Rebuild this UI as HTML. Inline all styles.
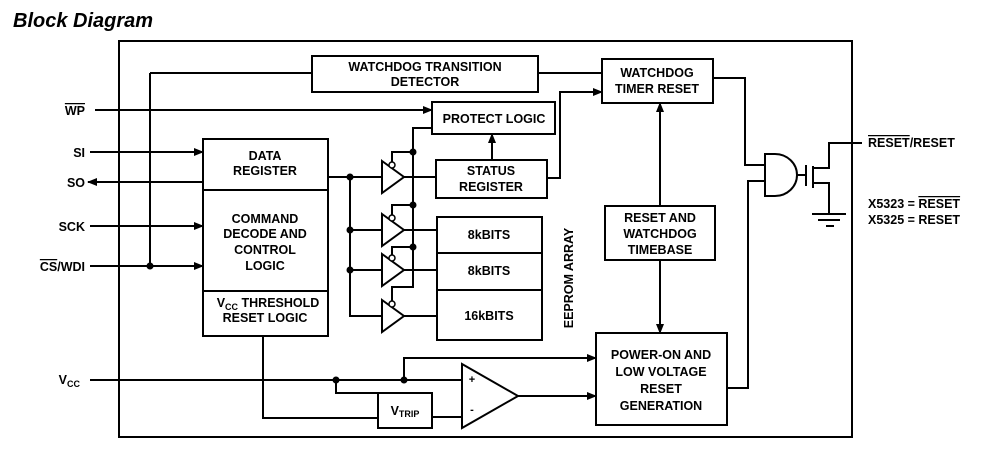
<!DOCTYPE html>
<html><head><style>
html,body{margin:0;padding:0;background:#fff;}
svg{display:block;}
text{font-family:"Liberation Sans",Arial,sans-serif;font-weight:bold;fill:#000;}
</style></head><body>
<svg width="1000" height="459" viewBox="0 0 1000 459" xmlns="http://www.w3.org/2000/svg">
<defs>
<marker id="a" markerWidth="10" markerHeight="8" refX="9" refY="4" orient="auto" markerUnits="userSpaceOnUse">
<path d="M0,0 L10,4 L0,8 z" fill="#000"/></marker>
</defs>
<text x="13" y="27" font-size="20" font-style="italic">Block Diagram</text>
<g fill="none" stroke="#000" stroke-width="2">
<rect x="119" y="41" width="733" height="396"/>
<rect x="312" y="56" width="226" height="36"/>
<rect x="602" y="59" width="111" height="44"/>
<rect x="432" y="102" width="123" height="32"/>
<rect x="203" y="139" width="125" height="197"/>
<line x1="203" y1="190" x2="328" y2="190"/>
<line x1="203" y1="291" x2="328" y2="291"/>
<rect x="436" y="160" width="111" height="38"/>
<rect x="437" y="217" width="105" height="123"/>
<line x1="437" y1="253" x2="542" y2="253"/>
<line x1="437" y1="290" x2="542" y2="290"/>
<rect x="605" y="206" width="110" height="54"/>
<rect x="596" y="333" width="131" height="92"/>
<rect x="378" y="393" width="54" height="35"/>
<line x1="150" y1="73" x2="312" y2="73"/>
<line x1="150" y1="73" x2="150" y2="266"/>
<line x1="538" y1="73" x2="602" y2="73"/>
<line x1="95" y1="110" x2="432" y2="110" marker-end="url(#a)"/>
<line x1="90" y1="152" x2="203" y2="152" marker-end="url(#a)"/>
<line x1="203" y1="182" x2="88" y2="182" marker-end="url(#a)"/>
<line x1="90" y1="226" x2="203" y2="226" marker-end="url(#a)"/>
<line x1="90" y1="266" x2="203" y2="266" marker-end="url(#a)"/>
<line x1="328" y1="177" x2="382" y2="177"/>
<polyline points="350,177 350,316 382,316"/>
<line x1="350" y1="230" x2="382" y2="230"/>
<line x1="350" y1="270" x2="382" y2="270"/>
<path d="M382,161 L404,177 L382,193 z"/>
<path d="M382,214 L404,230 L382,246 z"/>
<path d="M382,254 L404,270 L382,286 z"/>
<path d="M382,300 L404,316 L382,332 z"/>
<line x1="404" y1="177" x2="436" y2="177"/>
<line x1="404" y1="230" x2="437" y2="230"/>
<line x1="404" y1="270" x2="437" y2="270"/>
<line x1="404" y1="316" x2="437" y2="316"/>
<polyline points="392,162 392,152 413,152"/>
<polyline points="392,215 392,205 413,205"/>
<polyline points="392,255 392,247 413,247"/>
<polyline points="392,301 392,287 413,287 413,128 432,128"/>
<line x1="492" y1="160" x2="492" y2="134" marker-end="url(#a)"/>
<polyline points="547,178 560,178 560,92 602,92" marker-end="url(#a)"/>
<line x1="660" y1="206" x2="660" y2="103" marker-end="url(#a)"/>
<line x1="660" y1="260" x2="660" y2="333" marker-end="url(#a)"/>
<polyline points="713,78 745,78 745,165 765,165"/>
<polyline points="727,388 748,388 748,181 765,181"/>
<path d="M765,154 L775,154 A22,21 0 0 1 775,196 L765,196 z"/>
<line x1="797" y1="175" x2="806" y2="175"/>
<line x1="806" y1="165" x2="806" y2="186"/>
<line x1="813" y1="166" x2="813" y2="188"/>
<polyline points="813,168 829,168 829,143 862,143"/>
<polyline points="813,183 829,183 829,214"/>
<line x1="812" y1="214" x2="846" y2="214"/>
<line x1="818" y1="220" x2="840" y2="220"/>
<line x1="826" y1="226" x2="834" y2="226"/>
<line x1="90" y1="380" x2="462" y2="380"/>
<polyline points="404,380 404,358 596,358" marker-end="url(#a)"/>
<polyline points="336,380 336,393 378,393"/>
<polyline points="263,336 263,418 378,418"/>
<line x1="432" y1="417" x2="462" y2="417"/>
<path d="M462,364 L518,396 L462,428 z"/>
<line x1="518" y1="396" x2="596" y2="396" marker-end="url(#a)"/>
</g>
<g fill="#000">
<circle cx="150" cy="266" r="3.5"/>
<circle cx="350" cy="177" r="3.5"/>
<circle cx="350" cy="230" r="3.5"/>
<circle cx="350" cy="270" r="3.5"/>
<circle cx="413" cy="152" r="3.5"/>
<circle cx="413" cy="205" r="3.5"/>
<circle cx="413" cy="247" r="3.5"/>
<circle cx="336" cy="380" r="3.5"/>
<circle cx="404" cy="380" r="3.5"/>
</g>
<g fill="#fff" stroke="#000" stroke-width="1.5">
<circle cx="392" cy="165" r="3"/>
<circle cx="392" cy="218" r="3"/>
<circle cx="392" cy="258" r="3"/>
<circle cx="392" cy="304" r="3"/>
</g>
<g font-size="12.5" text-anchor="middle">
<text x="425" y="71">WATCHDOG TRANSITION</text>
<text x="425" y="86">DETECTOR</text>
<text x="657" y="77">WATCHDOG</text>
<text x="657" y="93">TIMER RESET</text>
<text x="494" y="123">PROTECT LOGIC</text>
<text x="265" y="160">DATA</text>
<text x="265" y="175">REGISTER</text>
<text x="265" y="223">COMMAND</text>
<text x="265" y="238">DECODE AND</text>
<text x="265" y="254">CONTROL</text>
<text x="265" y="270">LOGIC</text>
<text x="268" y="307">V<tspan font-size="9" dy="3">CC</tspan><tspan dy="-3"> THRESHOLD</tspan></text>
<text x="265" y="322">RESET LOGIC</text>
<text x="491" y="175">STATUS</text>
<text x="491" y="191">REGISTER</text>
<text x="489" y="239">8kBITS</text>
<text x="489" y="275">8kBITS</text>
<text x="489" y="320">16kBITS</text>
<text x="660" y="222">RESET AND</text>
<text x="660" y="238">WATCHDOG</text>
<text x="660" y="254">TIMEBASE</text>
<text x="661" y="359">POWER-ON AND</text>
<text x="661" y="376">LOW VOLTAGE</text>
<text x="661" y="393">RESET</text>
<text x="661" y="410">GENERATION</text>
<text x="405" y="415">V<tspan font-size="9" dy="2">TRIP</tspan></text>
</g>
<text x="472" y="383" font-size="11" text-anchor="middle">+</text>
<text x="472" y="413" font-size="11" text-anchor="middle">-</text>
<text x="569" y="278" font-size="12.5" text-anchor="middle" transform="rotate(-90 569 278)" dy="4">EEPROM ARRAY</text>
<g font-size="12.5" text-anchor="end">
<text x="85" y="115"><tspan text-decoration="overline">WP</tspan></text>
<text x="85" y="157">SI</text>
<text x="85" y="187">SO</text>
<text x="85" y="231">SCK</text>
<text x="85" y="271"><tspan text-decoration="overline">CS</tspan>/WDI</text>
<text x="80" y="384">V<tspan font-size="9" dy="3">CC</tspan></text>
</g>
<g font-size="12.5">
<text x="868" y="147"><tspan text-decoration="overline">RESET</tspan>/RESET</text>
<text x="868" y="208">X5323 = <tspan text-decoration="overline">RESET</tspan></text>
<text x="868" y="224">X5325 = RESET</text>
</g>
</svg>
</body></html>
